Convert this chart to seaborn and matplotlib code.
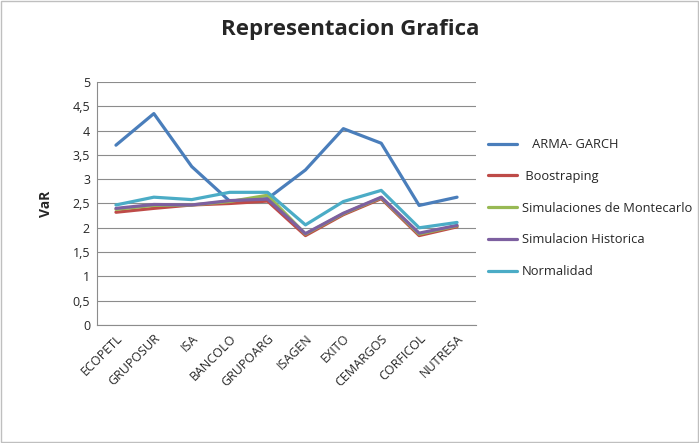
import matplotlib
matplotlib.use("Agg")
import matplotlib.pyplot as plt
import seaborn as sns
import pandas as pd
from matplotlib.patches import Rectangle

categories = ["ECOPETL", "GRUPOSUR", "ISA", "BANCOLO", "GRUPOARG",
              "ISAGEN", "EXITO", "CEMARGOS", "CORFICOL", "NUTRESA"]
arma_garch = [3.70, 4.35, 3.26, 2.55, 2.60, 3.19, 4.04, 3.74, 2.46, 2.63]
boostraping = [2.32, 2.40, 2.47, 2.50, 2.55, 1.84, 2.27, 2.60, 1.84, 2.02]
montecarlo = [2.38, 2.46, 2.47, 2.54, 2.67, 1.87, 2.29, 2.62, 1.87, 2.04]
historica = [2.40, 2.48, 2.47, 2.56, 2.59, 1.88, 2.30, 2.63, 1.89, 2.05]
normalidad = [2.47, 2.63, 2.58, 2.73, 2.73, 2.06, 2.54, 2.77, 2.00, 2.11]
yticks = [0, 0.5, 1, 1.5, 2, 2.5, 3, 3.5, 4, 4.5, 5]
ytick_labels = ["0", "0,5", "1", "1,5", "2", "2,5", "3", "3,5", "4", "4,5", "5"]

series_names = ["   ARMA- GARCH", " Boostraping", "Simulaciones de Montecarlo",
                "Simulacion Historica", "Normalidad"]
series_values = [arma_garch, boostraping, montecarlo, historica, normalidad]
colors = ["#4A7EBB", "#BE4B48", "#98B954", "#7D60A0", "#4BACC6"]

rows = []
for name, vals in zip(series_names, series_values):
    for i, (c, v) in enumerate(zip(categories, vals)):
        rows.append({"pos": i, "cat": c, "serie": name, "VaR": v})
df = pd.DataFrame(rows)

sns.set_theme(style="white")
plt.rcParams["font.family"] = ["Open Sans", "DejaVu Sans"]

fig = plt.figure(figsize=(6.99, 4.43), dpi=100)
ax = fig.add_axes([97 / 699, 1 - 325 / 443, (476 - 97) / 699, (325 - 82) / 443])

sns.lineplot(data=df, x="pos", y="VaR", hue="serie", hue_order=series_names,
             palette=colors, linewidth=2.3, sort=False, ax=ax, legend=True)

ax.set_xlim(-0.5, len(categories) - 0.5)
ax.set_ylim(0, 5)
ax.set_yticks(yticks)
ax.set_yticklabels(ytick_labels, fontsize=9)
ax.set_xticks(range(len(categories)))
ax.set_xticklabels(categories, rotation=45, ha="right", rotation_mode="anchor", fontsize=9)
ax.tick_params(axis="both", length=0, pad=5)
ax.yaxis.grid(True, color="#8C8C8C", linewidth=0.8)
ax.set_axisbelow(True)
for s in ["top", "right"]:
    ax.spines[s].set_visible(False)
for s in ["left", "bottom"]:
    ax.spines[s].set_color("#8C8C8C")
    ax.spines[s].set_linewidth(0.8)
ax.set_xlabel("")
ax.set_ylabel("VaR", fontsize=10, fontweight="bold", labelpad=14)

handles, labels = ax.get_legend_handles_labels()
ax.legend(handles, labels, loc="upper left", bbox_to_anchor=(483 / 699, 1 - 133 / 443),
          bbox_transform=fig.transFigure, frameon=False, fontsize=9.3,
          handlelength=2.2, handletextpad=0.4, labelspacing=1.45, borderaxespad=0)

fig.text(350 / 699, 1 - 30 / 443, "Representacion Grafica", ha="center", va="center",
         fontsize=16, fontweight="bold")

fig.patches.append(Rectangle((0.002, 0.002), 0.996, 0.996, transform=fig.transFigure,
                             fill=False, edgecolor="#BFBFBF", linewidth=1))

fig.savefig("out.png", dpi=100)
